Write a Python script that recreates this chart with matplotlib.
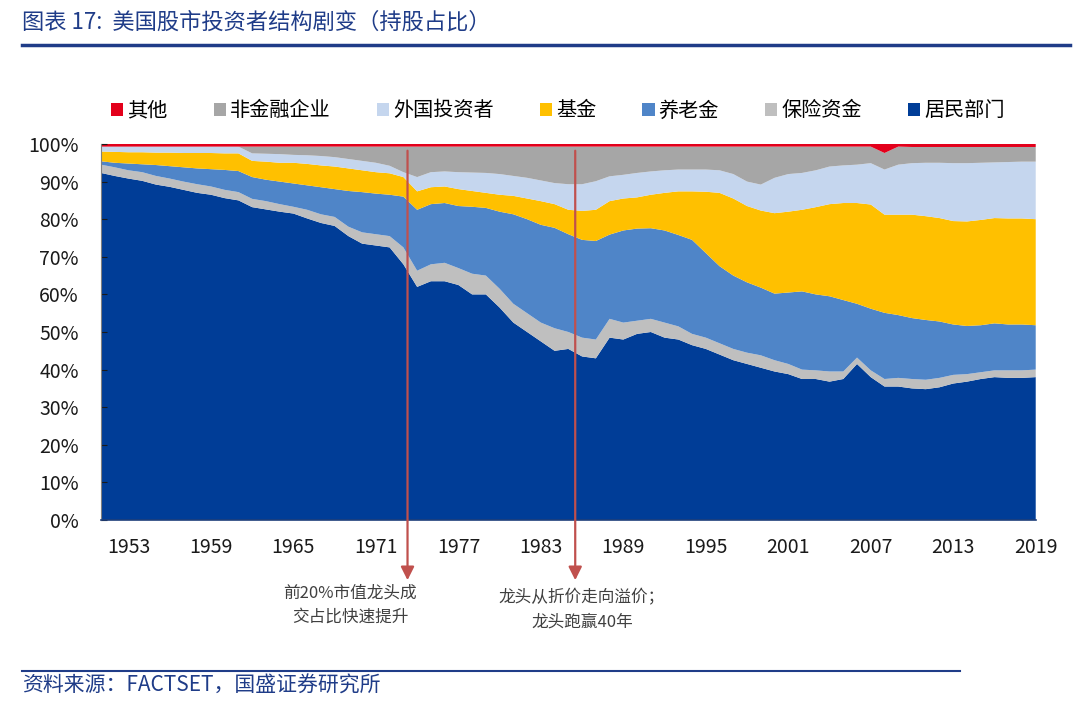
import numpy as np
import matplotlib
matplotlib.use('Agg')
import matplotlib.pyplot as plt
from matplotlib.patches import Patch
from matplotlib.lines import Line2D

plt.rcParams['font.family'] = ['Noto Sans CJK SC', 'DejaVu Sans']

# 年份（年度数据）
years = np.arange(1951, 2020)

# 各类投资者持股占比（%），自下而上堆叠
居民部门 = [92.3, 91.5, 90.8, 90.2, 89.2, 88.6, 87.8, 87.0, 86.5, 85.6, 85.0,
        83.2, 82.6, 82.0, 81.5, 80.2, 79.0, 78.2, 75.5, 73.5, 73.0,
        72.5, 68.0, 62.0, 63.5, 63.5, 62.5, 60.0, 60.0, 56.5, 52.5,
        50.0, 47.5, 45.0, 45.5, 43.5, 43.0, 48.5, 48.0, 49.5, 50.0,
        48.5, 48.0, 46.5, 45.5, 44.0, 42.5, 41.5, 40.5, 39.5, 38.8,
        37.5, 37.5, 36.8, 37.5, 41.5, 38.0, 35.5, 35.5, 35.0, 34.8,
        35.3, 36.3, 36.8, 37.5, 38.0, 37.8, 37.8, 38.0]
保险资金 = [2.2, 2.3, 2.2, 2.3, 2.3, 2.2, 2.2, 2.3, 2.2, 2.2, 2.2,
        2.2, 2.2, 2.0, 1.8, 2.3, 2.3, 2.4, 2.5, 3.0, 3.0,
        3.0, 4.5, 4.3, 4.5, 4.9, 4.5, 5.5, 5.0, 5.0, 5.0,
        5.0, 5.0, 6.0, 4.5, 5.0, 5.0, 5.0, 4.5, 3.5, 3.5,
        4.0, 3.5, 3.0, 3.0, 3.0, 3.0, 3.0, 3.3, 3.0, 2.7,
        2.5, 2.3, 2.7, 2.0, 1.7, 1.8, 2.0, 2.3, 2.5, 2.5,
        2.5, 2.3, 2.0, 1.8, 1.8, 2.0, 2.0, 2.0]
养老金 = [0.9, 1.2, 1.8, 2.1, 2.9, 3.3, 3.8, 4.2, 4.6, 5.3, 5.6,
       5.8, 5.7, 6.0, 6.2, 6.5, 7.2, 7.4, 9.5, 10.7, 10.8,
       11.0, 13.5, 16.2, 16.0, 15.9, 16.5, 17.8, 18.0, 20.5, 23.8,
       25.0, 26.0, 26.7, 26.0, 26.0, 26.2, 22.4, 24.5, 24.5, 24.1,
       24.5, 24.3, 25.0, 22.5, 20.5, 19.5, 18.7, 18.0, 17.7, 19.0,
       20.8, 20.2, 20.0, 19.0, 14.3, 16.4, 17.6, 16.7, 16.2, 15.9,
       15.0, 13.4, 12.8, 12.5, 12.5, 12.2, 12.2, 11.8]
基金 = [2.6, 2.9, 3.0, 3.2, 3.3, 3.6, 3.8, 4.1, 4.3, 4.4, 4.7,
      4.3, 4.8, 5.0, 5.5, 5.7, 5.8, 6.0, 6.0, 5.8, 5.7,
      5.7, 5.2, 4.9, 4.5, 4.4, 4.5, 4.2, 4.0, 4.5, 4.9,
      5.5, 6.3, 6.3, 6.5, 7.7, 8.3, 8.9, 8.5, 8.3, 8.9,
      10.0, 11.6, 12.9, 16.3, 19.5, 20.5, 20.3, 20.5, 21.4, 21.5,
      21.7, 23.2, 24.5, 25.8, 26.8, 27.7, 26.1, 26.7, 27.5, 27.6,
      27.5, 27.5, 27.8, 28.0, 28.0, 28.2, 28.2, 28.2]
外国投资者 = [1.3, 1.4, 1.5, 1.5, 1.6, 1.6, 1.7, 1.7, 1.7, 1.8, 1.8,
         2.0, 2.1, 2.3, 2.1, 2.3, 2.5, 2.5, 2.5, 2.5, 2.5,
         2.0, 1.3, 3.8, 4.0, 4.0, 4.5, 4.9, 5.3, 5.5, 5.3,
         5.5, 5.5, 5.6, 6.8, 7.1, 7.6, 6.6, 6.3, 6.5, 6.2,
         6.0, 5.8, 5.8, 5.9, 6.0, 6.5, 6.5, 6.9, 9.4, 10.0,
         9.8, 9.8, 10.0, 10.0, 10.2, 11.0, 12.0, 13.3, 13.7, 14.2,
         14.7, 15.4, 15.5, 15.2, 14.8, 15.0, 15.1, 15.3]
非金融企业 = [0.0, 0.0, 0.0, 0.0, 0.0, 0.0, 0.0, 0.0, 0.0, 0.0, 0.0,
         1.8, 1.9, 2.0, 2.2, 2.3, 2.5, 2.8, 3.3, 3.8, 4.3,
         5.1, 6.8, 8.1, 6.8, 6.6, 6.8, 6.9, 7.0, 7.3, 7.8,
         8.3, 9.0, 9.7, 10.0, 10.0, 9.2, 7.9, 7.5, 7.0, 6.6,
         6.3, 6.1, 6.1, 6.1, 6.3, 7.3, 9.3, 10.1, 8.3, 7.3,
         7.0, 6.3, 5.3, 5.0, 4.8, 4.4, 4.4, 4.8, 4.3, 4.2,
         4.2, 4.3, 4.3, 4.2, 4.1, 4.0, 3.9, 3.9]
其他 = [0.7] * 57 + [2.4, 0.7] + [0.8] * 10

names = ['居民部门', '保险资金', '养老金', '基金', '外国投资者', '非金融企业', '其他']
series = [居民部门, 保险资金, 养老金, 基金, 外国投资者, 非金融企业, 其他]
colors = ['#003D97', '#BFBFBF', '#4F85C8', '#FFC000', '#C5D6EE', '#A6A6A6', '#E3001B']

data = np.array(series, dtype=float)
data = data / data.sum(axis=0) * 100  # 100%堆积

fig = plt.figure(figsize=(10.8, 7.11), dpi=100)
ax = fig.add_axes([0.0935, 0.2686, 0.8655, 0.5289])

ax.stackplot(years, data, colors=colors, linewidth=0)

ax.set_xlim(years[0], years[-1])
ax.set_ylim(0, 100)
ax.set_yticks(np.arange(0, 101, 10))
ax.set_yticklabels([f'{v}%' for v in range(0, 101, 10)])
ax.set_xticks(np.arange(1953, 2020, 6))
ax.tick_params(axis='x', length=0, pad=12, labelsize=14, colors='#1a1a1a')
ax.tick_params(axis='y', direction='in', length=4, pad=16, labelsize=14,
               colors='#1a1a1a')
for s in ['top', 'right']:
    ax.spines[s].set_visible(False)
ax.spines['left'].set_color('#7f7f7f')
ax.spines['bottom'].set_color('#1F3F7A')
ax.spines['bottom'].set_linewidth(1.2)

# 箭头标注
arrow_c = '#C0504D'
for xa in [1973.3, 1985.5]:
    ax.annotate('', xy=(xa, -16.0), xytext=(xa, 98.2),
                arrowprops=dict(arrowstyle='-|>', color=arrow_c, lw=1.6,
                                mutation_scale=20, shrinkA=0, shrinkB=0),
                annotation_clip=False)

fig.text(350 / 1080, 1 - 605 / 711, '前20%市值龙头成\n交占比快速提升', ha='center', va='center',
         fontsize=12, color='#404040', linespacing=1.5)
fig.text(582 / 1080, 1 - 610 / 711, '龙头从折价走向溢价；\n龙头跑赢40年', ha='center', va='center',
         fontsize=12, color='#404040', linespacing=1.5)

# 图例
handles = [Patch(facecolor=c, edgecolor='none') for c in colors][::-1]
fig.legend(handles, names[::-1], loc='center left', bbox_to_anchor=(0.086, 0.844),
           ncol=7, frameon=False, fontsize=14.5, handlelength=0.6, handleheight=0.6,
           handletextpad=0.2, columnspacing=2.3)

# 标题与来源
title_c = '#1F3C88'
fig.text(22 / 1080, 1 - 22 / 711, '图表 17:  美国股市投资者结构剧变（持股占比）', ha='left', va='center',
         fontsize=16, color=title_c, style='italic')
fig.add_artist(Line2D([22 / 1080, 1070 / 1080], [1 - 45 / 711] * 2, color=title_c, lw=2.5))
fig.add_artist(Line2D([22 / 1080, 960 / 1080], [1 - 671 / 711] * 2, color=title_c, lw=1.5))
fig.text(22 / 1080, 1 - 686 / 711, '资料来源：FACTSET，国盛证券研究所', ha='left', va='center',
         fontsize=15, color=title_c, style='italic')

plt.savefig('out.png', dpi=100)
